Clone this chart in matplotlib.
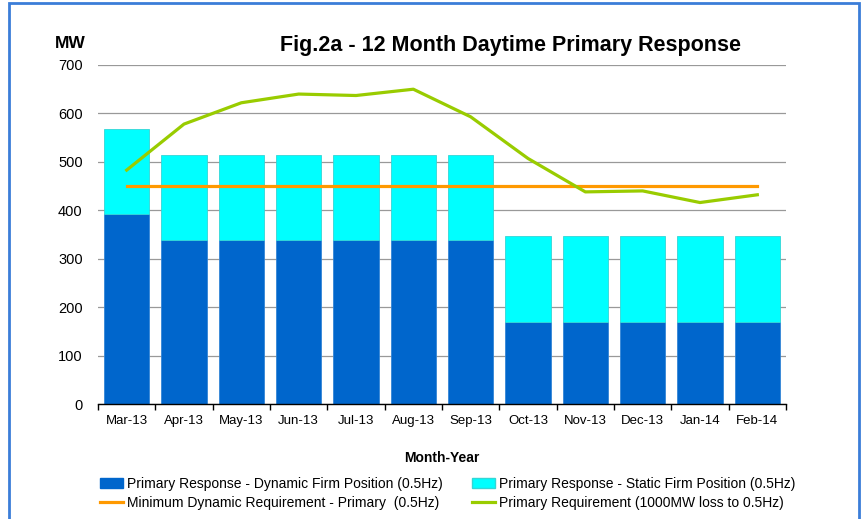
import numpy as np
import matplotlib.pyplot as plt
from matplotlib.patches import Rectangle
from matplotlib.lines import Line2D
from matplotlib.patches import Patch

plt.rcParams['font.family'] = ['Liberation Sans', 'DejaVu Sans']

months = ['Mar-13', 'Apr-13', 'May-13', 'Jun-13', 'Jul-13', 'Aug-13',
          'Sep-13', 'Oct-13', 'Nov-13', 'Dec-13', 'Jan-14', 'Feb-14']
dynamic = [392, 339, 339, 339, 339, 339, 339, 170, 170, 170, 170, 170]
static = [176, 176, 176, 176, 176, 176, 176, 176, 176, 176, 176, 176]
min_dynamic = [450] * 12
primary_req = [483, 578, 622, 640, 637, 650, 593, 507, 438, 440, 416, 432]

c_dyn = '#0066CC'
c_stat = '#00FFFF'
c_min = '#FF9900'
c_req = '#99CC00'

fig = plt.figure(figsize=(8.67, 5.19), dpi=100)
ax = fig.add_axes([98/867, 1 - 404/519, (786-98)/867, (404-65)/519])

x = np.arange(len(months))
w = 0.785
ax.bar(x, dynamic, w, color=c_dyn, edgecolor='#3385d6', linewidth=0.6, zorder=2)
ax.bar(x, static, w, bottom=dynamic, color=c_stat, edgecolor='#33d6d6', linewidth=0.6, zorder=2)
ax.plot(x, min_dynamic, color=c_min, lw=2.3, zorder=3)
ax.plot(x, primary_req, color=c_req, lw=2.3, zorder=4)

ax.set_xlim(-0.5, len(months) - 0.5)
ax.set_ylim(0, 700)
ax.set_yticks(np.arange(0, 701, 100))
ax.yaxis.grid(True, color='#999999', lw=0.9, zorder=0)
ax.set_axisbelow(True)
for s in ['top', 'right', 'left']:
    ax.spines[s].set_visible(False)
ax.spines['bottom'].set_color('black')
ax.spines['bottom'].set_linewidth(1.0)
ax.tick_params(axis='y', length=0, pad=11, labelsize=10.5)
ax.set_xticks(x)
ax.set_xticklabels(months, fontsize=9.5)
ax.tick_params(axis='x', length=0, pad=8)
ax.set_xticks(np.arange(-0.5, len(months)), minor=True)
ax.tick_params(axis='x', which='minor', length=4, width=1, direction='out')

fig.text(55/867, 1 - 43/519, 'MW', fontsize=12.5, fontweight='bold', ha='left', va='center')
fig.text(510/867, 1 - 45/519, 'Fig.2a - 12 Month Daytime Primary Response',
         fontsize=15.5, fontweight='bold', ha='center', va='center')
fig.text(442/867, 1 - 458/519, 'Month-Year', fontsize=10, fontweight='bold', ha='center', va='center')

handles = [
    Patch(facecolor=c_dyn, edgecolor=c_dyn),
    Line2D([0], [0], color=c_min, lw=2.3),
    Patch(facecolor=c_stat, edgecolor='#33d6d6'),
    Line2D([0], [0], color=c_req, lw=2.3),
]
labels = [
    'Primary Response - Dynamic Firm Position (0.5Hz)',
    'Minimum Dynamic Requirement - Primary  (0.5Hz)',
    'Primary Response - Static Firm Position (0.5Hz)',
    'Primary Requirement (1000MW loss to 0.5Hz)',
]
fig.legend(handles, labels, ncol=2, loc='upper left', bbox_to_anchor=(100/867, 1 - 477/519),
           frameon=False, fontsize=10, handlelength=1.65, handleheight=0.65, handletextpad=0.3,
           columnspacing=2.1, labelspacing=0.35, borderaxespad=0, borderpad=0)

fig.patches.append(Rectangle((9/867, -0.05), (859-9)/867, 1.05 - 3/519, transform=fig.transFigure,
                             fill=False, edgecolor='#3B7DD8', lw=2))

fig.savefig('out.png', dpi=100)
